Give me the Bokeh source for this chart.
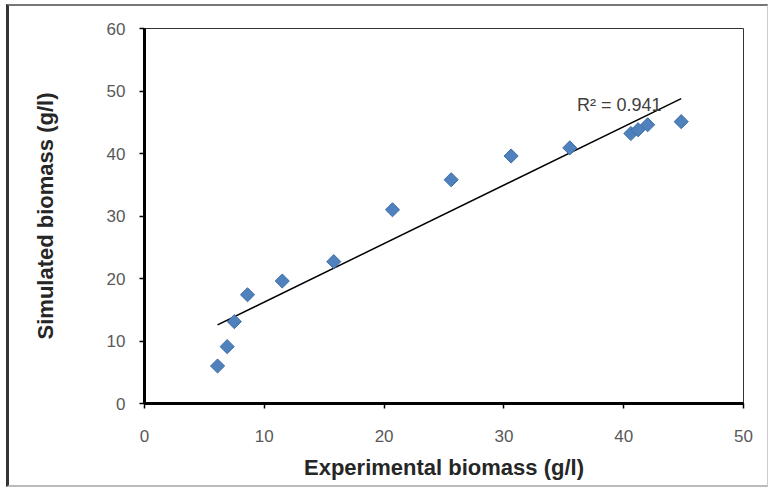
import numpy as np
from bokeh.plotting import figure
from bokeh.layouts import column
from bokeh.models import Range1d, FixedTicker, Label
from bokeh.embed import file_html
from bokeh.resources import INLINE

# ---- data ----
experimental = [6.1, 6.9, 7.5, 8.6, 11.5, 15.8, 20.7, 25.6, 30.6, 35.5, 40.6, 41.2, 42.0, 44.8]
simulated = [6.0, 9.1, 13.1, 17.4, 19.6, 22.7, 31.0, 35.8, 39.6, 40.9, 43.2, 43.8, 44.6, 45.1]
x_ticks = [0, 10, 20, 30, 40, 50]
y_ticks = [0, 10, 20, 30, 40, 50, 60]
r2_text = "R\u00b2 = 0.941"
x_title = "Experimental biomass (g/l)"
y_title = "Simulated biomass (g/l)"

# linear trend line through the points
slope, intercept = np.polyfit(experimental, simulated, 1)
trend_x = [min(experimental), max(experimental)]
trend_y = [slope * v + intercept for v in trend_x]

p = figure(width=758, height=479, output_backend="svg", toolbar_location=None,
           x_range=Range1d(0, 50), y_range=Range1d(0, 60),
           min_border_left=135, min_border_right=24,
           min_border_top=22, min_border_bottom=82)

p.background_fill_color = "white"
p.border_fill_color = "white"
p.outline_line_color = "#333333"
p.outline_line_width = 1
p.xgrid.visible = False
p.ygrid.visible = False

for ax, ticks in ((p.xaxis, x_ticks), (p.yaxis, y_ticks)):
    ax.ticker = FixedTicker(ticks=ticks)
    ax.minor_tick_line_color = None
    ax.axis_line_color = "black"
    ax.axis_line_width = 3
    ax.major_tick_line_color = "black"
    ax.major_tick_line_width = 1.5
    ax.major_tick_in = 0
    ax.major_tick_out = 5
    ax.major_label_text_font = "Liberation Sans"
    ax.major_label_text_font_size = "17px"
    ax.major_label_text_color = "#595959"
    ax.axis_label_text_font = "Liberation Sans"
    ax.axis_label_text_font_size = "22px"
    ax.axis_label_text_font_style = "bold"
    ax.axis_label_text_color = "#262626"

p.xaxis.axis_label = x_title
p.yaxis.axis_label = y_title
p.xaxis.major_label_standoff = 21
p.xaxis.axis_label_standoff = 10
p.yaxis.major_label_standoff = 14
p.yaxis.axis_label_standoff = 46

p.line(trend_x, trend_y, line_color="black", line_width=1.5)
p.scatter(experimental, simulated, marker="square", size=10, angle=np.pi / 4,
          fill_color="#4F81BD", line_color="#3f6fa8", line_width=1)

p.add_layout(Label(x=36.1, y=47.7, text=r2_text, text_font="Liberation Sans",
                   text_font_size="18px", text_color="#404040",
                   text_baseline="middle", text_align="left"))

layout = column(p, styles={
    "border-top": "2px solid #777777",
    "border-left": "3px solid #333333",
    "border-bottom": "2px solid #bbbbbb",
    "border-right": "1px solid #cccccc",
    "margin": "4px 0px 0px 6px",
})

open("out.html", "w").write(file_html(layout, INLINE))
